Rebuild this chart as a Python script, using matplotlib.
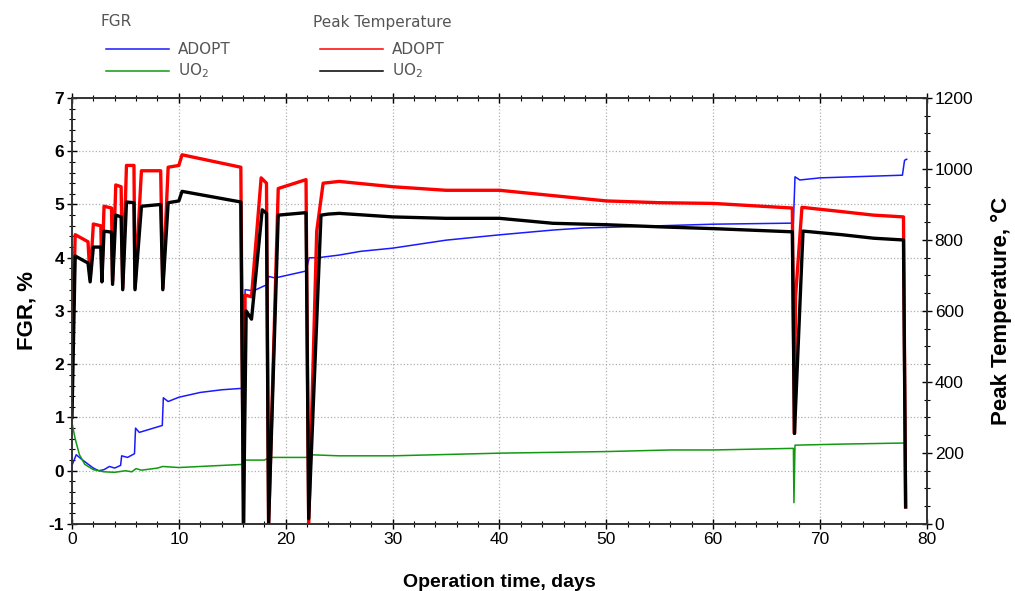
import matplotlib
matplotlib.use("Agg")
import numpy as np
from matplotlib import pyplot as plt
from matplotlib.ticker import MultipleLocator
from matplotlib.lines import Line2D

plt.rcParams["axes.unicode_minus"] = False
plt.rcParams["font.family"] = ["Liberation Sans", "DejaVu Sans"]

# ADOPT fuel, fission gas release (%)
adopt_fgr_days = [0.0, 0.4, 1.0, 2.0, 2.5, 3.0, 3.5, 4.0, 4.55, 4.65, 5.2, 5.85, 5.95,
                  6.3, 8.45, 8.55, 9.0, 10.0, 12.0, 14.0, 16.1, 16.2, 17.0, 18.3, 18.4,
                  19.0, 21.9, 22.2, 23.0, 25.0, 27.0, 30.0, 35.0, 40.0, 45.0, 48.0,
                  50.0, 55.0, 60.0, 67.5, 67.65, 68.1, 70.0, 77.7, 77.9, 78.1]
adopt_fgr = [0.1, 0.3, 0.2, 0.05, 0.0, 0.02, 0.08, 0.05, 0.1, 0.28, 0.25, 0.32, 0.8,
             0.72, 0.85, 1.37, 1.3, 1.38, 1.47, 1.52, 1.55, 3.4, 3.38, 3.5, 3.65,
             3.62, 3.75, 4.0, 4.0, 4.05, 4.12, 4.18, 4.33, 4.43, 4.52, 4.56,
             4.57, 4.6, 4.63, 4.65, 5.52, 5.46, 5.5, 5.55, 5.83, 5.85]

# UO2 fuel, fission gas release (%)
uo2_fgr_days = [0.0, 0.3, 0.7, 1.2, 2.0, 3.0, 4.0, 5.0, 5.6, 6.0, 6.5, 8.0, 8.5,
                10.0, 12.0, 16.1, 16.2, 18.0, 18.5, 22.1, 22.2, 22.3, 25.0, 30.0,
                40.0, 50.0, 56.0, 60.0, 67.5, 67.55, 67.65, 72.0, 77.8, 78.0]
uo2_fgr = [0.9, 0.6, 0.3, 0.12, 0.02, -0.02, -0.03, 0.0, -0.02, 0.04, 0.01, 0.05, 0.08,
           0.06, 0.08, 0.12, 0.2, 0.2, 0.25, 0.25, 0.2, 0.3, 0.28, 0.28,
           0.33, 0.36, 0.39, 0.39, 0.42, -0.6, 0.48, 0.5, 0.52, 0.55]

# ADOPT fuel, peak temperature (deg C)
adopt_temp_days = [0.0, 0.3, 1.5, 1.7, 2.0, 2.7, 2.8, 3.0, 3.7, 3.8, 4.1, 4.6, 4.75,
                   5.1, 5.8, 5.9, 6.5, 8.3, 8.5, 9.0, 10.0, 10.3, 15.8, 16.05, 16.2,
                   16.8, 17.7, 18.2, 18.4, 19.3, 21.9, 22.15, 22.9, 23.5, 25.0, 30.0,
                   35.0, 40.0, 45.0, 50.0, 55.0, 60.0, 67.4, 67.6, 67.7, 68.3, 72.0,
                   75.0, 77.8, 78.0]
adopt_temp = [420, 815, 795, 690, 845, 840, 690, 895, 890, 685, 955, 950, 665,
              1010, 1010, 665, 995, 995, 665, 1005, 1010, 1040, 1005, 0, 645,
              640, 975, 960, 0, 945, 970, 0, 825, 960, 965, 950,
              940, 940, 925, 910, 905, 903, 890, 255, 640, 892, 880,
              870, 865, 48]

# UO2 fuel, peak temperature (deg C)
uo2_temp_days = [0.0, 0.3, 1.5, 1.7, 2.0, 2.7, 2.8, 3.0, 3.7, 3.8, 4.1, 4.6, 4.75,
                 5.1, 5.8, 5.9, 6.5, 8.3, 8.5, 9.0, 10.0, 10.3, 15.8, 16.05, 16.3,
                 16.8, 17.8, 18.2, 18.4, 19.3, 21.9, 22.15, 23.3, 24.0, 25.0, 30.0,
                 35.0, 40.0, 45.0, 50.0, 55.0, 60.0, 67.4, 67.6, 68.4, 72.0, 75.0,
                 77.8, 78.0]
uo2_temp = [300, 755, 735, 682, 780, 780, 682, 825, 822, 675, 870, 865, 660,
            907, 905, 660, 895, 900, 660, 905, 910, 937, 907, 0, 600,
            577, 885, 875, 0, 870, 877, 15, 870, 873, 875, 865,
            861, 861, 847, 843, 837, 832, 823, 255, 825, 815, 805,
            800, 48]

fig = plt.figure(figsize=(10.15, 5.91), dpi=100)
ax = fig.add_axes([0.0709, 0.1134, 0.8424, 0.7208])
ax2 = ax.twinx()

ax.plot(adopt_fgr_days, adopt_fgr, color="#1a1aff", lw=1.1, zorder=3)
ax.plot(uo2_fgr_days, uo2_fgr, color="#119911", lw=1.1, zorder=3)
ax2.plot(adopt_temp_days, adopt_temp, color="#ff0000", lw=2.4)
ax2.plot(uo2_temp_days, uo2_temp, color="#000000", lw=2.4)

ax.set_xlim(0, 80)
ax.set_ylim(-1, 7)
ax2.set_ylim(0, 1200)

ax.xaxis.set_major_locator(MultipleLocator(10))
ax.xaxis.set_minor_locator(MultipleLocator(2))
ax.yaxis.set_major_locator(MultipleLocator(1))
ax.yaxis.set_minor_locator(MultipleLocator(0.2))
ax2.yaxis.set_major_locator(MultipleLocator(200))
ax2.yaxis.set_minor_locator(MultipleLocator(50))

ax.grid(True, which="major", color="#b0b0b0", linestyle=":", linewidth=0.9)
ax.tick_params(axis="both", which="major", direction="inout", length=7, width=1,
               top=True, labelsize=12.5, pad=2)
ax.tick_params(axis="both", which="minor", direction="inout", length=4, width=0.8,
               top=True)
ax.tick_params(axis="y", right=False, which="both")
ax2.tick_params(axis="y", which="major", direction="inout", length=7, width=1,
                labelsize=12.5, pad=2)
ax2.tick_params(axis="y", which="minor", direction="inout", length=4, width=0.8)
for lab in ax.get_yticklabels():
    lab.set_fontweight("bold")
for a in (ax, ax2):
    for s in a.spines.values():
        s.set_linewidth(1.2)
        s.set_color("#333333")

ax.set_xlabel("Operation time, days", fontsize=14, fontweight="bold", labelpad=20)
ax.set_ylabel("FGR, %", fontsize=16, fontweight="bold", labelpad=8)
ax2.set_ylabel("Peak Temperature, °C", fontsize=16, fontweight="bold", labelpad=13)

# two-column legend above the plot
leg_color = "#555555"
leg_font = ["DejaVu Sans"]
fig.text(100 / 1015, 1 - 22 / 591, "FGR", fontsize=11, color=leg_color, va="center",
         family=leg_font)
fig.text(313 / 1015, 1 - 22 / 591, "Peak Temperature", fontsize=11, color=leg_color,
         va="center", family=leg_font)
legend_rows = [(106, 49, "#1a1aff", "ADOPT"), (106, 71, "#119911", "UO$_2$"),
               (320, 49, "#ff0000", "ADOPT"), (320, 71, "#000000", "UO$_2$")]
for x0, y0, col, txt in legend_rows:
    fig.add_artist(Line2D([x0 / 1015, (x0 + 63) / 1015], [1 - y0 / 591, 1 - y0 / 591],
                          color=col, lw=1.1))
    fig.text((x0 + 72) / 1015, 1 - y0 / 591, txt, fontsize=11, color=leg_color,
             va="center", family=leg_font)

fig.savefig("out.png", dpi=100)
